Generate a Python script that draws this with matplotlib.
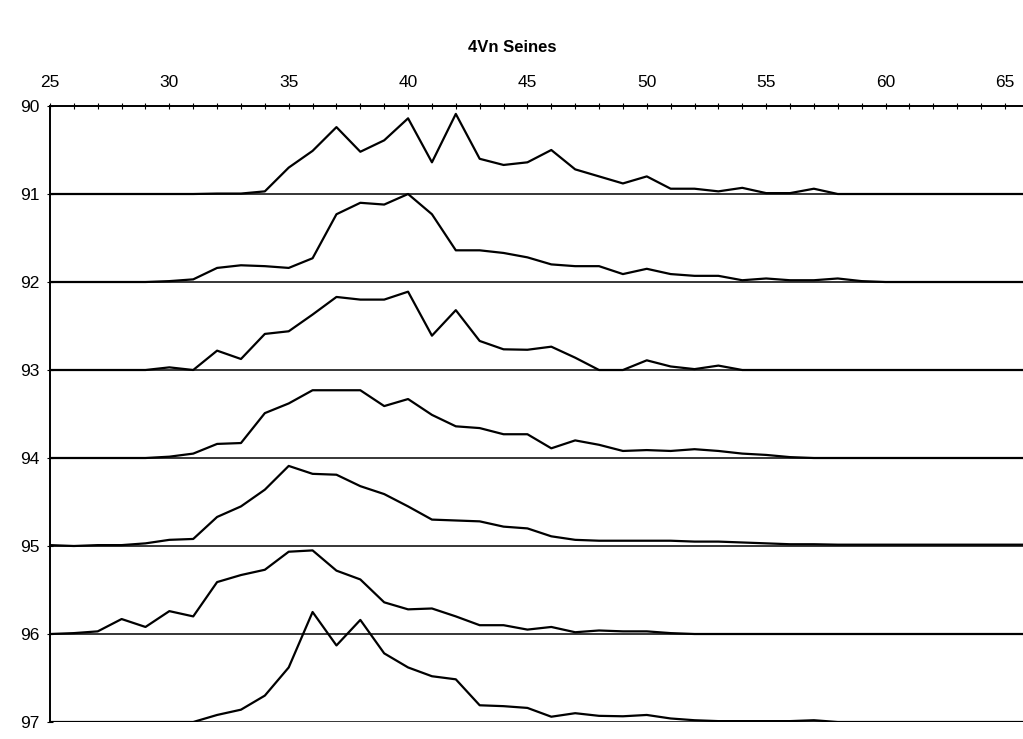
import numpy as np
import matplotlib
matplotlib.use("Agg")
import matplotlib.pyplot as plt

plt.rcParams['font.family'] = ['Liberation Sans', 'DejaVu Sans']

# length classes (cm) and relative catch at length, one row per year
lengths = list(range(25, 67))
years = [90, 91, 92, 93, 94, 95, 96]

f90 = [0, 0, 0, 0, 0, 0, 0, 0.005, 0.005, 0.03, 0.30, 0.49, 0.76, 0.48, 0.61, 0.86, 0.36, 0.91, 0.40, 0.33,
       0.36, 0.50, 0.28, 0.20, 0.12, 0.20, 0.06, 0.06, 0.03, 0.07, 0.01, 0.01, 0.06, 0, 0, 0, 0, 0, 0, 0, 0, 0]
f91 = [0, 0, 0, 0, 0, 0.01, 0.03, 0.16, 0.19, 0.18, 0.16, 0.27, 0.77, 0.90, 0.88, 1.00, 0.77, 0.36, 0.36, 0.33,
       0.28, 0.20, 0.18, 0.18, 0.09, 0.15, 0.09, 0.07, 0.07, 0.02, 0.04, 0.02, 0.02, 0.04, 0.01, 0, 0, 0, 0, 0, 0, 0]
f92 = [0, 0, 0, 0, 0, 0.03, 0, 0.22, 0.125, 0.41, 0.44, 0.63, 0.83, 0.80, 0.80, 0.89, 0.39, 0.68, 0.33, 0.235,
       0.23, 0.265, 0.14, 0, 0, 0.11, 0.04, 0.01, 0.05, 0, 0, 0, 0, 0, 0, 0, 0, 0, 0, 0, 0, 0]
f93 = [0, 0, 0, 0, 0, 0.015, 0.05, 0.16, 0.17, 0.51, 0.62, 0.77, 0.77, 0.77, 0.59, 0.67, 0.49, 0.36, 0.34, 0.27,
       0.27, 0.11, 0.20, 0.15, 0.08, 0.09, 0.08, 0.10, 0.08, 0.05, 0.035, 0.01, 0, 0, 0, 0, 0, 0, 0, 0, 0, 0]
f94 = [0.01, 0, 0.01, 0.01, 0.03, 0.07, 0.08, 0.33, 0.45, 0.64, 0.91, 0.82, 0.81, 0.68, 0.59, 0.45, 0.30, 0.29, 0.28, 0.22,
       0.20, 0.11, 0.07, 0.06, 0.06, 0.06, 0.06, 0.05, 0.05, 0.04, 0.03, 0.02, 0.02, 0.015, 0.015, 0.015, 0.015, 0.015,
       0.015, 0.015, 0.015, 0.015]
f95 = [0, 0.01, 0.03, 0.17, 0.08, 0.26, 0.20, 0.59, 0.67, 0.73, 0.935, 0.95, 0.72, 0.62, 0.36, 0.28, 0.29, 0.20, 0.10, 0.10,
       0.05, 0.08, 0.02, 0.04, 0.03, 0.03, 0.01, 0, 0, 0, 0, 0, 0, 0, 0, 0, 0, 0, 0, 0, 0, 0]
f96 = [0, 0, 0, 0, 0, 0, 0, 0.08, 0.14, 0.30, 0.62, 1.25, 0.87, 1.16, 0.78, 0.62, 0.52, 0.485, 0.19, 0.18,
       0.16, 0.06, 0.10, 0.07, 0.065, 0.08, 0.04, 0.02, 0.01, 0.01, 0.01, 0.01, 0.02, 0, 0, 0, 0, 0, 0, 0, 0, 0]

freqs = [f90, f91, f92, f93, f94, f95, f96]

fig = plt.figure(figsize=(10.23, 7.39), dpi=100)
ax = fig.add_axes([50/1023, 17/739, 973/1023, 616/739])

# each year sits on the baseline one unit below its label
for yr, f in zip(years, freqs):
    base = yr + 1
    ax.axhline(base, color='black', lw=1.1, zorder=1)
    ax.plot(lengths, base - np.array(f), color='black', lw=1.6, zorder=2)

ax.set_xlim(25, 65.76)
ax.set_ylim(97, 90)

ax.xaxis.tick_top()
ax.set_xticks(range(25, 66, 5))
ax.set_xticks(range(25, 66), minor=True)
ax.tick_params(axis='x', which='both', direction='inout', length=5, width=0.8, labelsize=12.5, pad=9)
ax.set_yticks(range(90, 98))
ax.tick_params(axis='y', direction='inout', length=5, width=0.8, labelsize=12.5, pad=5)

for s in ['right', 'bottom']:
    ax.spines[s].set_visible(False)
ax.spines['top'].set_linewidth(1.4)
ax.spines['left'].set_linewidth(1.4)

fig.text(512/1023, 1 - 47/739, '4Vn Seines', ha='center', va='center', fontsize=12, fontweight='bold')

fig.savefig('out.png', dpi=100)
